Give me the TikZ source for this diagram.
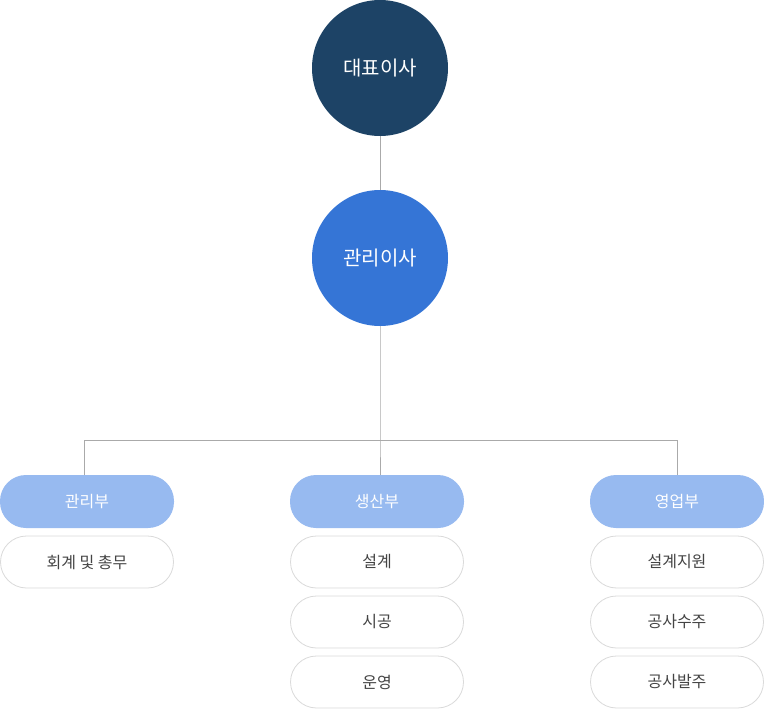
\documentclass[tikz,border=0pt]{standalone}
\usepackage{fontspec}
\setmainfont{Noto Sans CJK KR}
\definecolor{navy}{HTML}{1D4366}
\definecolor{midblue}{HTML}{3575D6}
\definecolor{lightblue}{HTML}{97BAF0}
\definecolor{pillborder}{HTML}{DADADA}
\definecolor{txtgray}{HTML}{444444}
\definecolor{linegray}{HTML}{AAAAAA}
\begin{document}
\begin{tikzpicture}[x=1pt,y=-1pt,
  circ/.style={circle,minimum size=136pt,inner sep=0pt,text=white,font=\fontsize{20}{22}\selectfont},
  headpill/.style={rounded corners=26pt,fill=lightblue,minimum width=174pt,minimum height=53pt,inner sep=0pt,text=white,font=\fontsize{16}{18}\selectfont},
  subpill/.style={rounded corners=26pt,draw=pillborder,line width=0.8pt,fill=white,minimum width=173pt,minimum height=52pt,inner sep=0pt,text=txtgray,font=\fontsize{16}{18}\selectfont},
  conn/.style={draw=linegray,line width=0.8pt}]
\useasboundingbox (0,0) rectangle (764,709);
\node[circ,fill=navy] (ceo) at (380,68) {대표이사};
\node[circ,fill=midblue] (mgr) at (380,258) {관리이사};
\coordinate (hub) at (380,440);
\coordinate (leftend) at (84,440);
\coordinate (rightend) at (677,440);
\node[headpill] (d1) at (87,501.5) {관리부};
\node[headpill] (d2) at (377,501.5) {생산부};
\node[headpill] (d3) at (677,501.5) {영업부};
\node[subpill] (a1) at (87,562) {회계 및 총무};
\node[subpill] (b1) at (377,562) {설계};
\node[subpill] (b2) at (377,622) {시공};
\node[subpill] (b3) at (377,682) {운영};
\node[subpill] (c1) at (677,562) {설계지원};
\node[subpill] (c2) at (677,622) {공사수주};
\node[subpill] (c3) at (677,682) {공사발주};
\draw[conn] (ceo.south) -- (mgr.north);
\draw[conn] (mgr.south) -- (hub) -- (hub |- d2.north);
\draw[conn] (leftend) -- (rightend);
\draw[conn] (leftend) -- (leftend |- d1.north);
\draw[conn] (rightend) -- (d3.north);
\end{tikzpicture}
\end{document}
